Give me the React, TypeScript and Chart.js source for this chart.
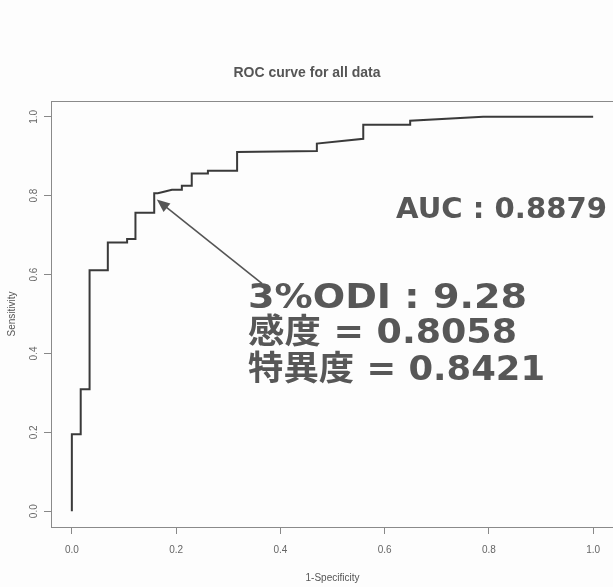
import React, { useEffect, useRef } from "react";
import { Chart, registerables } from "chart.js";

Chart.register(...registerables);

// ROC curve points (1 - specificity, sensitivity)
const fpr = [0, 0, 0.017, 0.017, 0.034, 0.034, 0.069, 0.069, 0.106, 0.106, 0.122, 0.122, 0.158, 0.158, 0.165, 0.192, 0.211, 0.211, 0.23, 0.23, 0.261, 0.261, 0.317, 0.317, 0.47, 0.47, 0.559, 0.559, 0.649, 0.649, 0.789, 1.0];
const tpr = [0, 0.195, 0.195, 0.309, 0.309, 0.611, 0.611, 0.681, 0.681, 0.69, 0.69, 0.757, 0.757, 0.806, 0.806, 0.815, 0.815, 0.825, 0.825, 0.856, 0.856, 0.863, 0.863, 0.911, 0.913, 0.932, 0.944, 0.98, 0.98, 0.99, 1.0, 1.0];

const xTicks = [0, 0.2, 0.4, 0.6, 0.8, 1.0];
const yTicks = [0, 0.2, 0.4, 0.6, 0.8, 1.0];

const titleText = "ROC curve for all data";
const xTitle = "1-Specificity";
const yTitle = "Sensitivity";

const aucLabel = "AUC : 0.8879";
const cutoffLines = ["3%ODI : 9.28", "感度 = 0.8058", "特異度 = 0.8421"];

// arrow: from label toward the cut-off point (1-0.8421, 0.8058)
const arrowTip = { x: 0.163, y: 0.79 };
const arrowTail = { x: 0.365, y: 0.577 };

const TEXT_COLOR = "#575757";

const overlayPlugin = {
  id: "overlay",
  beforeDraw(chart: any) {
    const ctx = chart.ctx;
    ctx.save();
    ctx.fillStyle = "#fdfdfd";
    ctx.fillRect(0, 0, chart.width, chart.height);
    ctx.restore();
  },
  afterDatasetsDraw(chart: any) {
    const { ctx, chartArea, scales } = chart;
    const xs = scales.x;
    const ys = scales.y;
    ctx.save();
    // plot frame
    ctx.strokeStyle = "#8a8a8a";
    ctx.lineWidth = 1;
    ctx.strokeRect(
      Math.round(chartArea.left) + 0.5,
      Math.round(chartArea.top) + 0.5,
      Math.round(chartArea.right - chartArea.left),
      Math.round(chartArea.bottom - chartArea.top)
    );

    // arrow
    const tx = xs.getPixelForValue(arrowTip.x);
    const ty = ys.getPixelForValue(arrowTip.y);
    const sx = xs.getPixelForValue(arrowTail.x);
    const sy = ys.getPixelForValue(arrowTail.y);
    const ang = Math.atan2(ty - sy, tx - sx);
    const headLen = 13;
    const headW = 5.5;
    ctx.strokeStyle = "#555";
    ctx.fillStyle = "#555";
    ctx.lineWidth = 1.6;
    ctx.beginPath();
    ctx.moveTo(sx, sy);
    ctx.lineTo(tx - Math.cos(ang) * headLen * 0.8, ty - Math.sin(ang) * headLen * 0.8);
    ctx.stroke();
    ctx.beginPath();
    ctx.moveTo(tx, ty);
    ctx.lineTo(
      tx - Math.cos(ang) * headLen - Math.sin(ang) * headW,
      ty - Math.sin(ang) * headLen + Math.cos(ang) * headW
    );
    ctx.lineTo(
      tx - Math.cos(ang) * headLen + Math.sin(ang) * headW,
      ty - Math.sin(ang) * headLen - Math.cos(ang) * headW
    );
    ctx.closePath();
    ctx.fill();

    // texts
    const drawFit = (text: string, size: number, x: number, y: number, targetW: number) => {
      ctx.font = `bold ${size}px 'DejaVu Sans', 'Noto Sans CJK JP', sans-serif`;
      ctx.textAlign = "left";
      ctx.textBaseline = "alphabetic";
      ctx.fillStyle = TEXT_COLOR;
      const w = ctx.measureText(text).width;
      const s = targetW / w;
      ctx.save();
      ctx.translate(x, y);
      ctx.scale(s, 1);
      ctx.fillText(text, 0, 0);
      ctx.restore();
    };
    drawFit(aucLabel, 29, 396, 218, 211);
    const widths = [279, 269, 297];
    const baselines = [308, 343, 380];
    cutoffLines.forEach((t, i) => drawFit(t, 34, 248, baselines[i], widths[i]));
    ctx.restore();
  },
};

export default function App() {
  const ref = useRef<HTMLCanvasElement>(null);
  useEffect(() => {
    if (!ref.current) return;
    const points = fpr.map((v, i) => ({ x: v, y: tpr[i] }));
    const axisFont = { family: "'Liberation Sans', Arial, sans-serif", size: 10 };
    const chart = new Chart(ref.current, {
      type: "scatter",
      data: {
        datasets: [
          {
            data: points,
            showLine: true,
            borderColor: "#3a3a3a",
            borderWidth: 2,
            pointRadius: 0,
            tension: 0,
            fill: false,
          },
        ],
      },
      options: {
        animation: false,
        responsive: false,
        devicePixelRatio: 1,
        layout: { padding: { left: 0, right: 51, top: 0, bottom: 0 } },
        plugins: {
          legend: { display: false },
          tooltip: { enabled: false },
          title: {
            display: true,
            text: titleText,
            color: "#555",
            font: { family: "'Liberation Sans', Arial, sans-serif", size: 14, weight: "bold" },
            padding: { top: 65, bottom: 19.2 },
          },
        },
        scales: {
          x: {
            type: "linear",
            position: "bottom",
            min: -0.04,
            max: 1.04,
            afterBuildTicks: (s: any) => {
              s.ticks = xTicks.map((v) => ({ value: v }));
            },
            afterFit: (s: any) => {
              s.height = 60;
            },
            grid: { drawOnChartArea: false, drawTicks: true, tickLength: 7, color: "#888" },
            border: { display: true, color: "#888" },
            ticks: {
              color: "#666",
              font: axisFont,
              padding: 10,
              maxRotation: 0,
              callback: (v: any) => Number(v).toFixed(1),
            },
            title: {
              display: true,
              text: xTitle,
              color: "#555",
              font: axisFont,
              padding: { top: 0, bottom: 3 },
            },
          },
          y: {
            type: "linear",
            min: -0.04,
            max: 1.04,
            afterBuildTicks: (s: any) => {
              s.ticks = yTicks.map((v) => ({ value: v }));
            },
            afterFit: (s: any) => {
              s.width = 51;
            },
            grid: { drawOnChartArea: false, drawTicks: true, tickLength: 7, color: "#888" },
            border: { display: true, color: "#888" },
            ticks: {
              color: "#666",
              font: axisFont,
              padding: 3,
              minRotation: 90,
              maxRotation: 90,
              crossAlign: "center",
              callback: (v: any) => Number(v).toFixed(1),
            },
            title: {
              display: true,
              text: yTitle,
              color: "#555",
              font: axisFont,
              padding: { top: 6, bottom: 0 },
            },
          },
        },
      },
      plugins: [overlayPlugin],
    } as any);
    return () => chart.destroy();
  }, []);

  return (
    <div
      style={{
        position: "fixed",
        left: 0,
        top: 0,
        width: 613,
        height: 587,
        overflow: "hidden",
        background: "#fdfdfd",
      }}
    >
      <canvas ref={ref} width={665} height={587} style={{ display: "block", width: 665, height: 587 }} />
    </div>
  );
}
